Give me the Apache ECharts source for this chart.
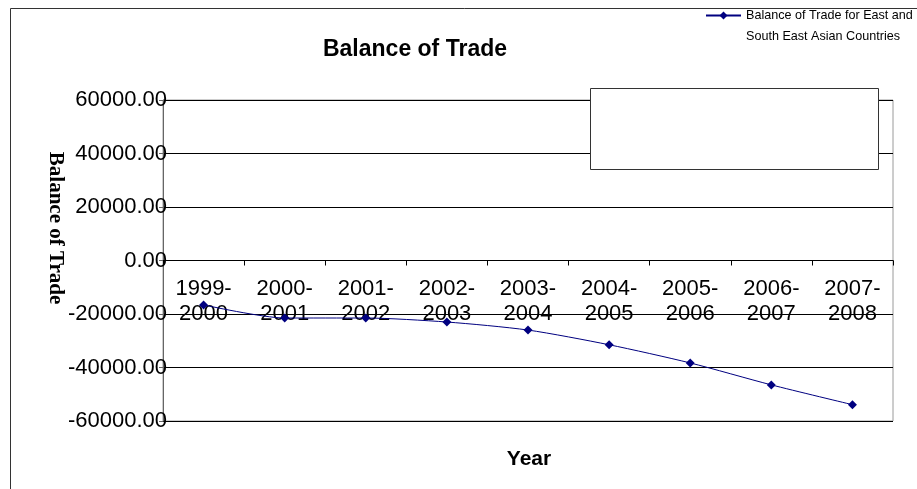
<!DOCTYPE html>
<html>
<head>
<meta charset="utf-8">
<script src="https://cdn.jsdelivr.net/npm/echarts@6/dist/echarts.min.js"></script>
<style>html,body{margin:0;padding:0;background:#fff;}#c{width:917px;height:489px;}</style>
</head>
<body>
<div id="c"></div>
<script>
var categories = ['1999-2000','2000-2001','2001-2002','2002-2003','2003-2004','2004-2005','2005-2006','2006-2007','2007-2008'];
var tradeBalance = [-16600, -21500, -21500, -23000, -26000, -31500, -38300, -46500, -53900];
var seriesName = 'Balance of Trade for East and South East Asian Countries';
var yTicks = { min: -60000, max: 60000, step: 20000 };

var chart = echarts.init(document.getElementById('c'), null, { renderer: 'canvas' });
var FONT = "'Liberation Sans', Arial, sans-serif";
var gridTop = 100, gridBottom = 68, plotH = 489 - gridTop - gridBottom;
var zeroOffset = -plotH * (0 - yTicks.min) / (yTicks.max - yTicks.min);
chart.setOption({
  animation: false,
  backgroundColor: '#fff',
  title: {
    text: 'Balance of Trade',
    left: 415, top: 38, textAlign: 'center', padding: 0,
    textStyle: { fontFamily: FONT, fontWeight: 'bold', fontSize: 23, color: '#000' }
  },
  legend: {
    left: 705, top: -16, padding: 0,
    itemWidth: 35, itemHeight: 10, itemGap: 4,
    data: [seriesName],
    formatter: function () { return '\nBalance of Trade for East and\nSouth East Asian Countries'; },
    textStyle: { fontFamily: FONT, fontSize: 12.6, color: '#000', lineHeight: 21 }
  },
  grid: { left: 163, right: 24, top: gridTop, bottom: gridBottom, show: true, borderColor: '#9a9a9a', borderWidth: 1, containLabel: false },
  xAxis: {
    type: 'category',
    data: categories,
    boundaryGap: true,
    offset: zeroOffset,
    axisLine: { onZero: false, lineStyle: { color: '#000', width: 1 } },
    axisTick: { show: true, length: 5, alignWithLabel: false, lineStyle: { color: '#000' } },
    axisLabel: {
      interval: 0, margin: 16, color: '#000', fontFamily: FONT, fontSize: 22, lineHeight: 25,
      formatter: function (v) { return v.replace('-', '-\n'); }
    },
    splitLine: { show: false }
  },
  yAxis: {
    type: 'value',
    min: yTicks.min, max: yTicks.max, interval: yTicks.step,
    axisLine: { show: true, lineStyle: { color: '#666', width: 1 } },
    axisTick: { show: true, length: 4, lineStyle: { color: '#666' } },
    axisLabel: {
      margin: -4, color: '#000', fontFamily: FONT, fontSize: 22,
      formatter: function (v) { return v.toFixed(2); }
    },
    splitLine: { show: true, lineStyle: { color: '#000', width: 1 } }
  },
  series: [{
    name: seriesName,
    type: 'line',
    data: tradeBalance,
    smooth: 0.25,
    symbol: 'diamond',
    symbolSize: 9,
    itemStyle: { color: '#000080' },
    lineStyle: { color: '#000080', width: 1 },
    z: 5
  }],
  graphic: [
    { type: 'rect', shape: { x: 10.5, y: 8.5, width: 940, height: 520 }, style: { fill: 'none', stroke: '#333', lineWidth: 1 }, z: 0, silent: true },
    { type: 'rect', shape: { x: 590.5, y: 88.5, width: 288, height: 81 }, style: { fill: '#fff', stroke: '#333', lineWidth: 1 }, z: 10, silent: true },
    { type: 'text', x: 55, y: 228, rotation: -Math.PI / 2, style: { text: 'Balance of Trade', fontFamily: "'Liberation Serif', 'Times New Roman', serif", fontWeight: 'bold', fontSize: 21, fill: '#000', align: 'center', verticalAlign: 'middle' }, z: 10 },
    { type: 'text', x: 529, y: 459, style: { text: 'Year', fontFamily: FONT, fontWeight: 'bold', fontSize: 21, fill: '#000', align: 'center', verticalAlign: 'middle' }, z: 10 }
  ]
});
</script>
</body>
</html>
